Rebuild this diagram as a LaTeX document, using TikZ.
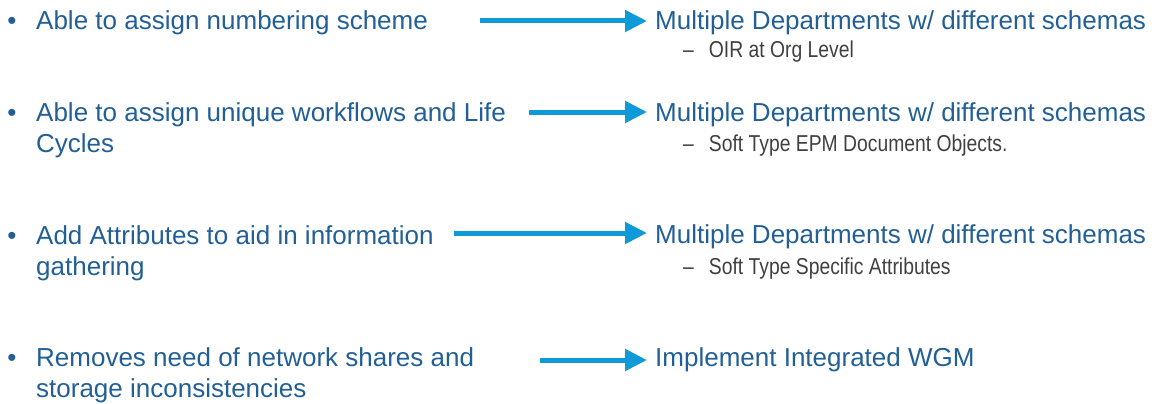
\documentclass[tikz,border=0pt]{standalone}
\usepackage{fontspec}
\setmainfont{Liberation Sans}
\newfontfamily\narrowfont[FakeStretch=0.84]{Liberation Sans}
\usetikzlibrary{arrows.meta}
\definecolor{itemblue}{RGB}{33,95,150}
\definecolor{arrowblue}{RGB}{14,154,216}
\definecolor{subgrey}{RGB}{64,64,64}
\tikzset{item/.style={anchor=base west, inner sep=0pt, align=left, text=itemblue, font=\fontsize{26}{31}\selectfont},
         dot/.style={anchor=base, inner sep=0pt, text=itemblue, font=\fontsize{26}{31}\selectfont},
         subitem/.style={anchor=base west, inner sep=0pt, text=subgrey, font=\narrowfont\fontsize{23}{28}\selectfont},
         goes/.style={draw=arrowblue, line width=5pt, -{Triangle[length=22pt,width=21pt]}, shorten >=8pt}
}

\begin{document}
\begin{tikzpicture}[x=1pt,y=-1pt]
\useasboundingbox (0,0) rectangle (1159,404);

% base of a two-line item is its last line
\node[dot] (d1) at (12,30) {•};
\node[item] (l1) at (36,30) {Able to assign numbering scheme};
\node[item] (r1) at (655,30) {Multiple Departments w/ different schemas};
\node[subitem] (s1) at (683,58) {–\hspace{15pt}OIR at Org Level};
\coordinate (a1) at (480,21);
\draw[goes] (a1) -- (a1 -| r1.west);

\node[dot] (d2) at (12,121) {•};
\node[item] (l2) at (36,152) {Able to assign unique workflows and Life\\Cycles};
\node[item] (r2) at (655,121) {Multiple Departments w/ different schemas};
\node[subitem] (s2) at (683,151) {–\hspace{15pt}Soft Type EPM Document Objects.};
\coordinate (a2) at (529,112);
\draw[goes] (a2) -- (a2 -| r2.west);

\node[dot] (d3) at (12,244) {•};
\node[item] (l3) at (36,275) {Add Attributes to aid in information\\gathering};
\node[item] (r3) at (655,243) {Multiple Departments w/ different schemas};
\node[subitem] (s3) at (683,274) {–\hspace{15pt}Soft Type Specific Attributes};
\coordinate (a3) at (454,233);
\draw[goes] (a3) -- (a3 -| r3.west);

\node[dot] (d4) at (12,366) {•};
\node[item] (l4) at (36,397) {Removes need of network shares and\\storage inconsistencies};
\node[item] (r4) at (655,366) {Implement Integrated WGM};
\coordinate (a4) at (540,360);
\draw[goes] (a4) -- (a4 -| r4.west);

\end{tikzpicture}
\end{document}
